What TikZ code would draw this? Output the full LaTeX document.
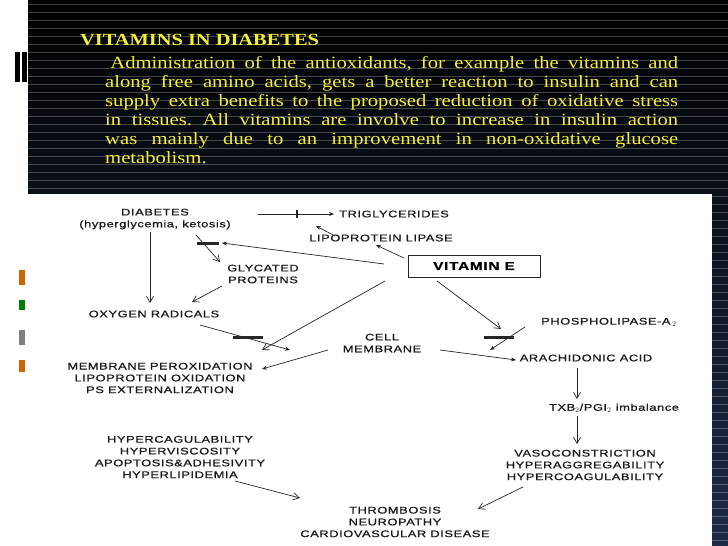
\documentclass[tikz,border=0pt]{standalone}
\usepackage{fontspec}
\setmainfont{Liberation Serif}
\newfontfamily\dsans[FakeStretch=1.34,LetterSpace=6,FakeBold=0.8]{Liberation Sans}
\newfontfamily\wserif[FakeStretch=1.2]{Liberation Serif}
\usetikzlibrary{arrows.meta}
\definecolor{navy}{HTML}{1E2B47}
\definecolor{ylw}{HTML}{F4EE3A}
\tikzset{
 lbl/.style={font=\dsans\fontsize{9.6}{11.8}\selectfont, text=black!90, align=center, inner sep=1pt},
 arr/.style={draw=black!85, line width=0.7pt, -{Straight Barb[length=6pt,width=7pt]}},
 sarr/.style={draw=black!85, line width=0.7pt, -{Stealth[length=5pt,width=4pt]}},
 blk/.style={line width=3pt, black!85},
}
\begin{document}
\begin{tikzpicture}[x=1pt,y=-1pt]
\useasboundingbox (0,0) rectangle (728,546);
\shade[top color=black, bottom color=navy] (0,0) rectangle (728,546);
\fill[white] (0,0) rectangle (28,546);
\foreach \yy in {4,12,...,546} \draw[white,opacity=0.25,line width=0.4pt] (28,\yy) -- (728,\yy);
\fill[black] (15,52) rectangle (20,82); \fill[black] (22,52) rectangle (27,82);
\fill[orange!80!black] (19,270) rectangle (25,285);
\fill[green!50!black] (19,300) rectangle (25,310);
\fill[gray] (19,330) rectangle (25,345);
\fill[orange!80!black] (19,360) rectangle (25,372);
\fill[white] (28,194) rectangle (712,546);
% header text
\node[anchor=west, text=ylw, font=\wserif\bfseries\fontsize{17}{18}\selectfont, inner sep=0] (title) at (80,40) {VITAMINS IN DIABETES};
\node[anchor=north west, text=ylw, text width=573pt, align=justify, font=\wserif\fontsize{17.2}{19}\selectfont, inner sep=0] (para) at (105,56)
 {\frenchspacing\hspace*{0.3em}Administration of the antioxidants, for example the vitamins and\linebreak along free amino acids, gets a better reaction to insulin and can\linebreak supply extra benefits to the proposed reduction of oxidative stress\linebreak in tissues. All vitamins are involve to increase in insulin action\linebreak was mainly due to an improvement in non-oxidative glucose\linebreak metabolism.};
% diagram
\node[lbl] (dia) at (155,219) {DIABETES\\(hyperglycemia, ketosis)};
\node[lbl] (tri) at (394,214) {TRIGLYCERIDES};
\node[lbl] (lip) at (381,238) {LIPOPROTEIN LIPASE};
\node[draw=black!85, line width=0.8pt, minimum width=132pt, minimum height=22pt, font=\dsans\bfseries\fontsize{11.5}{12}\selectfont] (vit) at (474,266) {VITAMIN E};
\node[lbl] (gly) at (263,274) {GLYCATED\\PROTEINS};
\node[lbl] (oxy) at (154,314) {OXYGEN RADICALS};
\node[lbl] (cell) at (382,343) {CELL\\MEMBRANE};
\node[lbl, anchor=west] (pho) at (540,322) {PHOSPHOLIPASE-A\,$_{2}$};
\node[lbl] (ara) at (586,358) {ARACHIDONIC ACID};
\node[lbl] (mem) at (160,378) {MEMBRANE PEROXIDATION\\LIPOPROTEIN OXIDATION\\PS EXTERNALIZATION};
\node[lbl] (hyp) at (180,457) {HYPERCAGULABILITY\\HYPERVISCOSITY\\APOPTOSIS\&ADHESIVITY\\HYPERLIPIDEMIA};
\node[lbl] (txb) at (614,408) {TXB$_2$/PGI$_2$ imbalance};
\node[lbl] (vas) at (585,465) {VASOCONSTRICTION\\HYPERAGGREGABILITY\\HYPERCOAGULABILITY};
\node[lbl] (thr) at (395,522) {THROMBOSIS\\NEUROPATHY\\CARDIOVASCULAR DISEASE};
% connector end points
\coordinate (t0) at (258,214); \coordinate (t1) at (334,214);
\coordinate (l0) at (335,236); \coordinate (l1) at (316,226);
\coordinate (v1) at (404,258); \coordinate (v2) at (376,245);
\coordinate (v3) at (384,264); \coordinate (v4) at (222,243);
\coordinate (v5) at (385,281); \coordinate (v6) at (262,350);
\coordinate (v7) at (437,281); \coordinate (v8) at (501,329);
% connectors
\draw[sarr] (t0) -- (t1);
\draw[line width=2.5pt,black!85] (297,210) -- (297,218);
\draw[sarr] (l0) -- (l1);
\draw[sarr] (v1) -- (v2);
\draw[sarr] (v3) -- (v4);
\draw[blk] (197,243) -- (219,243);
\draw[arr] (196,235) -- (220,262);
\draw[arr] (150,232) -- (150,303);
\draw[arr] (222,286) -- (192,302);
\draw[blk] (233,337) -- (263,337);
\draw[sarr] (200,325) -- (290,350);
\draw[arr] (v5) -- (v6);
\draw[sarr] (328,350) -- (262,369);
\draw[blk] (484,337) -- (514,337);
\draw[arr] (v7) -- (v8);
\draw[sarr] (525,327) -- (490,350);
\draw[sarr] (440,350) -- (516,360);
\draw[arr] (577,368) -- (577,399);
\draw[arr] (577,416) -- (577,444);
\draw[arr] (235,481) -- (300,498);
\draw[arr] (523,487) -- (478,509);
\end{tikzpicture}
\end{document}
